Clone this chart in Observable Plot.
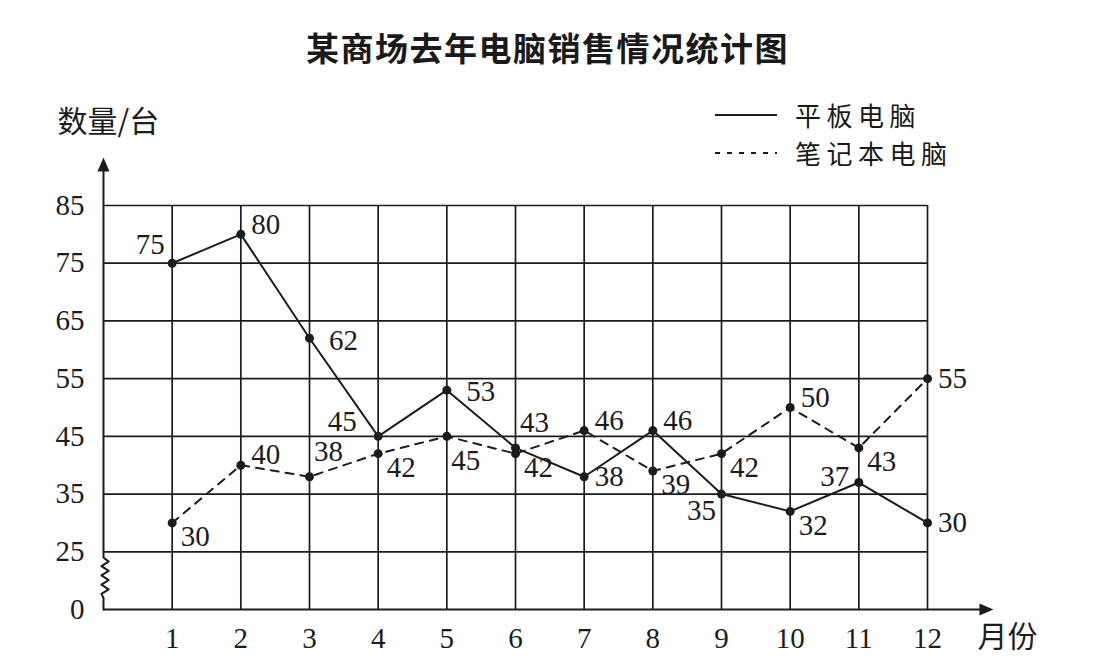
<!DOCTYPE html>
<html>
<head>
<meta charset="utf-8">
<script src="https://cdn.jsdelivr.net/npm/d3@7"></script>
<script src="https://cdn.jsdelivr.net/npm/@observablehq/plot@0.6"></script>
<style>
  html, body { margin: 0; padding: 0; background: #fff; }
  #wrap { position: relative; width: 1095px; height: 668px; overflow: hidden; background: #fff; }
  #title {
    height: 61px; padding-top: 24px; line-height: 46px; text-align: center;
    font-family: "Noto Sans CJK SC", sans-serif; font-weight: 700; font-size: 33px;
    letter-spacing: 1.5px; color: #1a1a1a; width: 1095px;
  }
  #legend { position: absolute; left: 715px; top: 96px; font-family: "Noto Sans CJK SC", sans-serif; font-size: 26px; color: #1a1a1a; }
  .row { height: 38px; display: flex; align-items: center; letter-spacing: 5.5px; }
  .row svg { width: 80px; height: 38px; flex: none; }
  .row span { display: inline-block; height: 26px; line-height: 26px; white-space: nowrap; }
</style>
</head>
<body>
<div id="wrap">
  <div id="title">某商场去年电脑销售情况统计图</div>
  <div id="chart"></div>
  <div id="legend"></div>
</div>
<script>
// ---- data ----
const months = [1, 2, 3, 4, 5, 6, 7, 8, 9, 10, 11, 12];
const tabletSales = [75, 80, 62, 45, 53, 43, 38, 46, 35, 32, 37, 30];
const notebookSales = [30, 40, 38, 42, 45, 42, 46, 39, 42, 50, 43, 55];
const yTickValues = [0, 25, 35, 45, 55, 65, 75, 85];
const seriesNames = ["平板电脑", "笔记本电脑"];
const yAxisTitle = "数量/台";
const xAxisTitle = "月份";
// label placement around each point (compass direction)
const tabletLabelPlace = ["NW", "NE", "FE", "FNW", "FE", "NNE", "E", "NE", "SW", "SE", "W", "E"];
const notebookLabelPlace = ["SE", "NE", "NNE", "SE", "SSE", "SE", "NE", "SE", "SE", "NE", "SE", "E"];

// ---- helpers ----
const BREAK_AT = 15; // the broken axis draws 0 one step below 25
const axisPos = v => (v === 0 ? BREAK_AT : v);
const placeOffsets = {
  E: [25, 0], FE: [34, 2], NE: [25, -10], NNE: [19, -25], SE: [23, 14], SSE: [19, 24],
  NW: [-22, -18], FNW: [-36, -15], SW: [-20, 17], W: [-24, -6]
};
const ink = "#1c1c1c";
const numFont = "'Liberation Serif', 'DejaVu Serif', serif";
const cjkFont = "'Noto Sans CJK SC', sans-serif";

const tabletRows = months.map((m, i) => ({month: m, value: tabletSales[i], place: tabletLabelPlace[i]}));
const notebookRows = months.map((m, i) => ({month: m, value: notebookSales[i], place: notebookLabelPlace[i]}));

// zigzag break mark on the y axis (decoration between the 0 and 25 ticks)
const zig = [{x: 0, y: 25}, {x: 0, y: 24}];
for (let k = 0; k < 8; k++) zig.push({x: k % 2 === 0 ? 0.075 : -0.03, y: 23.3 - k * 0.8});
zig.push({x: 0, y: 17}, {x: 0, y: BREAK_AT});

// narrow filled arrowhead, tip at the anchor point, pointing up
const arrowHead = {
  draw(ctx) { ctx.moveTo(0, 0); ctx.lineTo(6, 14); ctx.lineTo(-6, 14); ctx.closePath(); }
};

const labelMarks = [];
for (const key of Object.keys(placeOffsets)) {
  const [dx, dy] = placeOffsets[key];
  for (const rows of [tabletRows, notebookRows]) {
    const sub = rows.filter(d => d.place === key);
    if (sub.length) labelMarks.push(Plot.text(sub, {
      x: "month", y: "value", text: d => String(d.value), dx, dy,
      fontSize: 29, fontFamily: numFont, fill: ink, textAnchor: "middle", lineAnchor: "middle"
    }));
  }
}

const chart = Plot.plot({
  width: 1095,
  height: 583,
  marginLeft: 103,
  marginRight: 168,
  marginTop: 120,
  marginBottom: 59,
  x: {domain: [0, 12], axis: null},
  y: {domain: [BREAK_AT, 85], axis: null},
  style: {background: "#fff", overflow: "visible"},
  marks: [
    // grid
    Plot.ruleY(yTickValues.filter(v => v > 0), {y: d => d, x1: 0, x2: 12, stroke: ink, strokeWidth: 1.7}),
    Plot.ruleX(months, {x: d => d, y1: BREAK_AT, y2: 85, stroke: ink, strokeWidth: 1.7}),
    // axes
    Plot.ruleY([axisPos(0)], {x1: 0, x2: 12.8, stroke: ink, strokeWidth: 2}),
    Plot.ruleX([0], {y1: 25, y2: 92, stroke: ink, strokeWidth: 2}),
    Plot.line(zig, {x: "x", y: "y", stroke: ink, strokeWidth: 2}),
    Plot.dot([0], {x: 0, y: 93.3, symbol: arrowHead, fill: ink, stroke: null}),
    Plot.dot([0], {x: 12.96, y: axisPos(0), symbol: arrowHead, rotate: 90, fill: ink, stroke: null}),
    // tick labels
    Plot.text(yTickValues, {y: d => axisPos(d), text: d => String(d), frameAnchor: "left", dx: -19,
      textAnchor: "end", lineAnchor: "middle", fontSize: 29, fontFamily: numFont, fill: ink}),
    Plot.text(months, {x: d => d, text: d => String(d), frameAnchor: "bottom", dy: 29,
      textAnchor: "middle", lineAnchor: "middle", fontSize: 29, fontFamily: numFont, fill: ink}),
    Plot.text([yAxisTitle], {frameAnchor: "top-left", dx: -46, dy: -83, textAnchor: "start",
      lineAnchor: "middle", fontSize: 30, fontFamily: cjkFont, fill: ink, letterSpacing: 3}),
    Plot.text([xAxisTitle], {frameAnchor: "bottom-right", dx: 50, dy: 28, textAnchor: "start",
      lineAnchor: "middle", fontSize: 30, fontFamily: cjkFont, fill: ink}),
    // series
    Plot.line(tabletRows, {x: "month", y: "value", stroke: ink, strokeWidth: 2}),
    Plot.line(notebookRows, {x: "month", y: "value", stroke: ink, strokeWidth: 2, strokeDasharray: "8,7"}),
    Plot.dot(tabletRows, {x: "month", y: "value", r: 4.5, fill: ink, stroke: null}),
    Plot.dot(notebookRows, {x: "month", y: "value", r: 4.5, fill: ink, stroke: null}),
    ...labelMarks
  ]
});
document.getElementById("chart").appendChild(chart);

// legend
const legend = document.getElementById("legend");
const dashes = ["none", "5,7"];
seriesNames.forEach((name, i) => {
  const row = document.createElement("div");
  row.className = "row";
  row.innerHTML = `<svg viewBox="0 0 80 38"><line x1="0" x2="62" y1="19" y2="19" stroke="${ink}" stroke-width="1.8" stroke-dasharray="${dashes[i]}"/></svg><span>${name}</span>`;
  legend.appendChild(row);
});
</script>
</body>
</html>
